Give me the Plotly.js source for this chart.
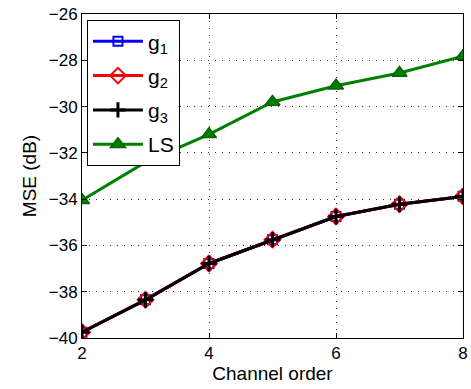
<!DOCTYPE html>
<html>
<head>
<meta charset="utf-8">
<script src="https://cdn.plot.ly/plotly-3.0.1.min.js"></script>
<style>html,body{margin:0;padding:0;background:#fff;}#chart{width:471px;height:389px;}</style>
</head>
<body>
<div id="chart"></div>
<script>
const channelOrder = [2, 3, 4, 5, 6, 7, 8];
const g1 = [-39.75, -38.35, -36.78, -35.75, -34.75, -34.22, -33.88];
const g2 = [-39.75, -38.35, -36.78, -35.75, -34.75, -34.22, -33.88];
const g3 = [-39.75, -38.35, -36.78, -35.75, -34.75, -34.22, -33.88];
const ls = [-34.05, -32.4, -31.2, -29.8, -29.1, -28.55, -27.82];
const xTicks = [2, 4, 6, 8];
const yTicks = [-40, -38, -36, -34, -32, -30, -28, -26];

const FONT = 'Liberation Sans';

const traces = [
  {x: channelOrder, y: g1, name: 'g<sub>1</sub>', legendgroup: 'a', mode: 'lines+markers',
   line: {color: '#0000ff', width: 3},
   marker: {symbol: 'square-open', size: 9, color: '#0000ff', line: {width: 2, color: '#0000ff'}}},
  {x: channelOrder, y: g2, name: 'g<sub>2</sub>', legendgroup: 'b', mode: 'lines+markers',
   line: {color: '#ff0000', width: 3},
   marker: {symbol: 'diamond-open', size: 12, color: '#ff0000', line: {width: 2, color: '#ff0000'}}},
  {x: channelOrder, y: g3, name: 'g<sub>3</sub>', legendgroup: 'c', mode: 'lines+markers',
   line: {color: '#000000', width: 3},
   marker: {symbol: 'cross-thin-open', size: 11, color: '#000000', line: {width: 3, color: '#000000'}}},
  {x: channelOrder, y: ls, name: 'LS', legendgroup: 'd', mode: 'lines+markers',
   line: {color: '#008000', width: 3},
   marker: {symbol: 'triangle-up', size: 13, color: '#008000', line: {width: 1.5, color: '#006400'}}}
];

const axisCommon = {
  showline: true, linecolor: '#000', linewidth: 1, mirror: 'ticks',
  ticks: 'inside', ticklen: 5, tickcolor: '#000',
  showgrid: true, gridcolor: '#333', griddash: '1px,6px', gridwidth: 1,
  zeroline: false,
  tickfont: {family: FONT, size: 17, color: '#000'}
};

const layout = {
  width: 471, height: 389,
  margin: {l: 82, r: 8, t: 14, b: 51},
  paper_bgcolor: '#fff', plot_bgcolor: '#fff',
  font: {family: FONT, size: 17, color: '#000'},
  showlegend: true,
  xaxis: Object.assign({}, axisCommon, {
    range: [2, 8], tickvals: xTicks, ticktext: xTicks.map(String),
    title: {text: 'Channel order', font: {family: FONT, size: 19, color: '#000'}, standoff: 0}
  }),
  yaxis: Object.assign({}, axisCommon, {
    range: [-40, -26], tickvals: yTicks, ticktext: yTicks.map(v => '\u2212' + Math.abs(v)),
    title: {text: 'MSE (dB)', font: {family: FONT, size: 19, color: '#000'}, standoff: 7}
  }),
  legend: {
    x: 0.013, y: 0.981, xanchor: 'left', yanchor: 'top',
    bgcolor: '#fff', bordercolor: '#000', borderwidth: 1,
    font: {family: FONT, size: 21, color: '#000'},
    tracegroupgap: 4, itemwidth: 50, traceorder: 'grouped'
  }
};

Plotly.newPlot('chart', traces, layout, {displayModeBar: false, staticPlot: true});
</script>
</body>
</html>
